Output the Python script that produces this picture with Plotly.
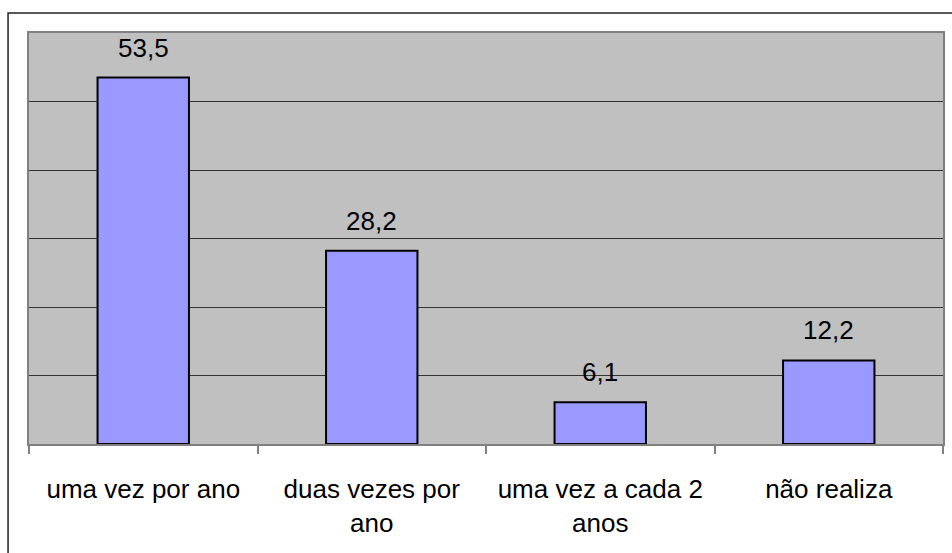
import plotly.graph_objects as go

categories = ["uma vez por ano", "duas vezes por<br>ano", "uma vez a cada 2<br>anos", "não realiza"]
values = [53.5, 28.2, 6.1, 12.2]
value_labels = ["53,5", "28,2", "6,1", "12,2"]

x_pos = list(range(len(categories)))
boundaries = [i - 0.5 for i in range(len(categories) + 1)]

FONT = "Liberation Sans, Arial, sans-serif"

fig = go.Figure()
fig.add_trace(go.Bar(
    x=x_pos, y=values, width=0.4,
    marker=dict(color="#9999FF", line=dict(color="black", width=2)),
    hoverinfo="skip",
))

for xv, yv, t in zip(x_pos, values, value_labels):
    fig.add_annotation(x=xv, y=yv, text=t, showarrow=False, yanchor="bottom",
                       yshift=13, font=dict(size=26, color="black", family=FONT))

W, H = 952, 553
ml, mt, mr, mb = 29, 33, 7, 109
pw, ph = W - ml - mr, H - mt - mb

fig.add_shape(type="rect", xref="paper", yref="paper",
              x0=(8 - ml) / pw, x1=(W + 20 - ml) / pw,
              y0=-(H + 20 - mt - ph) / ph, y1=(H - 13 - mb) / ph,
              line=dict(color="#222222", width=1.5), fillcolor="rgba(0,0,0,0)", layer="below")

fig.update_layout(
    width=W, height=H,
    margin=dict(l=ml, r=mr, t=mt, b=mb),
    paper_bgcolor="white", plot_bgcolor="#C0C0C0",
    showlegend=False,
    font=dict(family=FONT, size=26, color="black"),
    xaxis=dict(
        range=[-0.5, len(categories) - 0.5],
        tickmode="array", tickvals=x_pos, ticktext=categories,
        ticks="", ticklen=0, ticklabelstandoff=21,
        showgrid=False, zeroline=False,
        showline=True, linecolor="#808080", linewidth=2, mirror=True,
        minor=dict(tickmode="array", tickvals=boundaries, ticks="outside",
                   ticklen=8, tickwidth=2, tickcolor="#808080", showgrid=False),
        tickfont=dict(size=26, family=FONT, color="black"),
        fixedrange=True,
    ),
    yaxis=dict(
        range=[0, 60], dtick=10, tick0=0,
        showticklabels=False, ticks="",
        showgrid=True, gridcolor="#333333", gridwidth=1,
        zeroline=False,
        showline=True, linecolor="#808080", linewidth=2, mirror=True,
        fixedrange=True,
    ),
)

fig.write_html("out.html", config={"displayModeBar": False},
               post_script="document.body.style.margin='0';document.body.style.overflow='hidden';")
